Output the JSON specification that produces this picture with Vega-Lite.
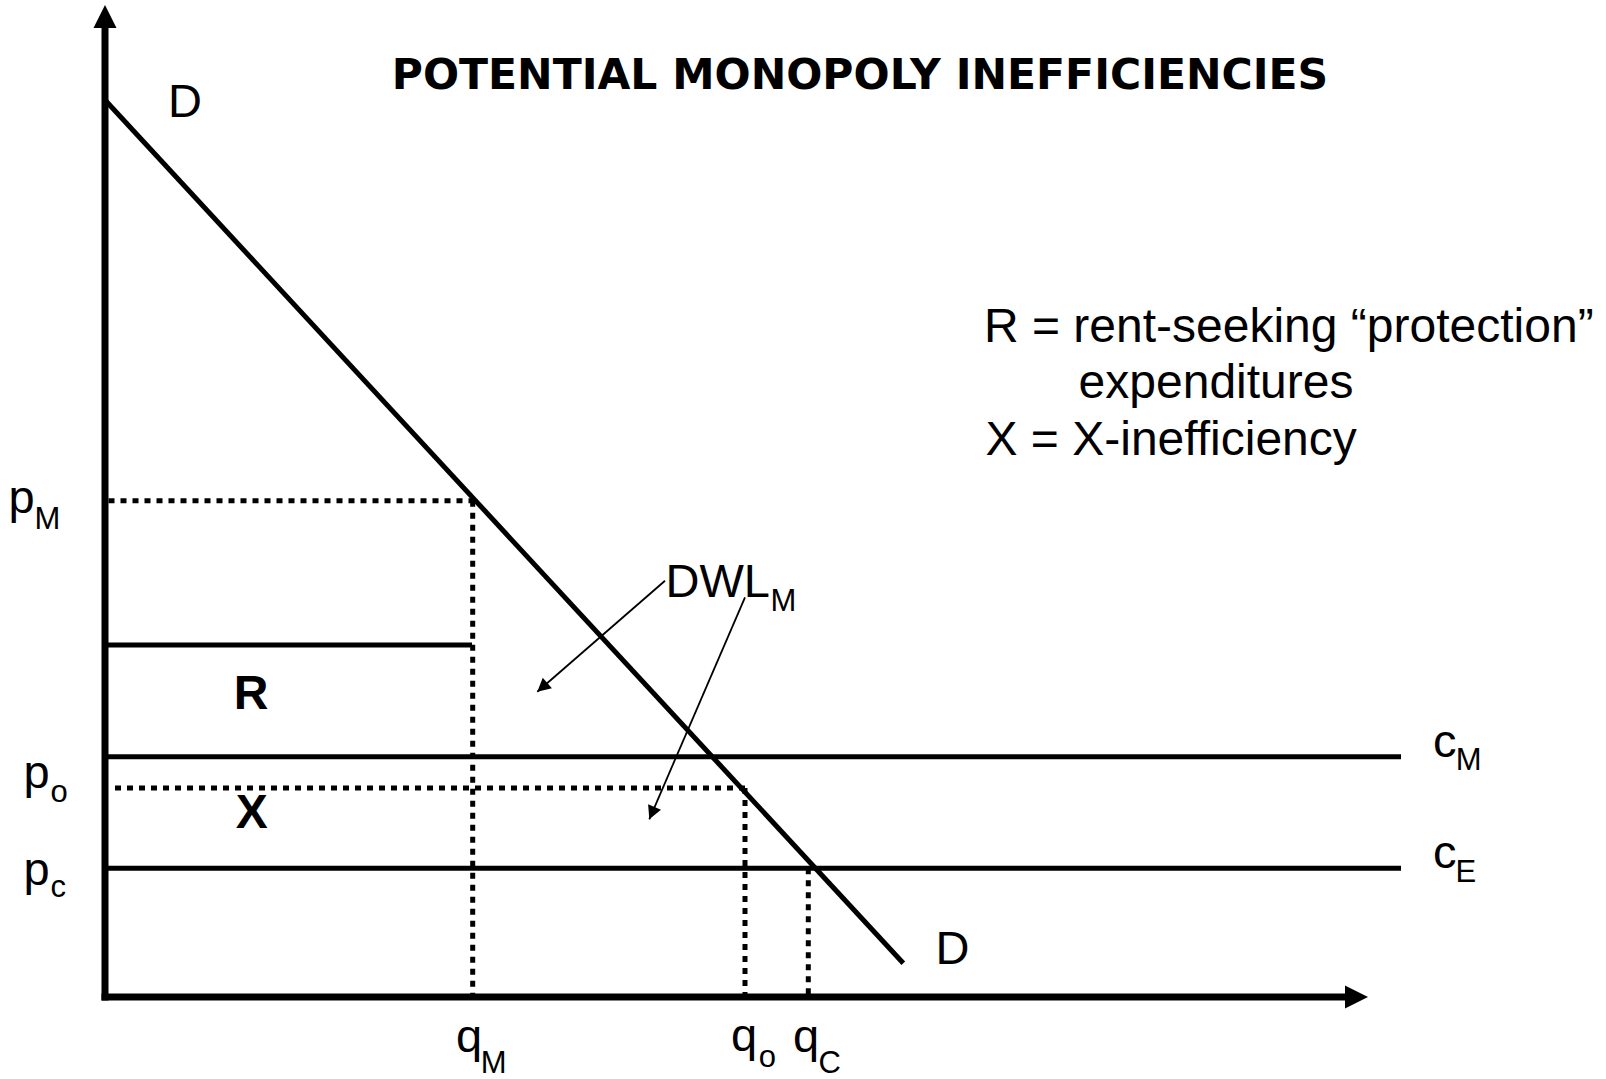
{
  "$schema": "https://vega.github.io/schema/vega-lite/v6.json",
  "width": 1606,
  "height": 1079,
  "padding": 0,
  "autosize": {"type": "fit", "contains": "padding"},
  "background": "white",
  "config": {"view": {"stroke": null}},
  "datasets": {
    "solid": [
      {"name": "D", "q": 0, "p": 89.7, "q2": 79.83, "p2": 3.37},
      {"name": "R", "q": 0, "p": 35.2, "q2": 36.7, "p2": 35.2},
      {"name": "cM", "q": 0, "p": 24.03, "q2": 129.6, "p2": 24.03},
      {"name": "cE", "q": 0, "p": 12.87, "q2": 129.6, "p2": 12.87}
    ],
    "dotted": [
      {"name": "pM", "q": 0.35, "p": 49.63, "q2": 36.77, "p2": 49.63},
      {"name": "qM", "q": 36.77, "p": 49.63, "q2": 36.77, "p2": 0.3},
      {"name": "po", "q": 1.0, "p": 20.9, "q2": 64.0, "p2": 20.9},
      {"name": "qo", "q": 64.0, "p": 20.9, "q2": 64.0, "p2": 0.3},
      {"name": "qC", "q": 70.33, "p": 12.87, "q2": 70.33, "p2": 0.3}
    ],
    "axes": [
      {"name": "y", "q": 0, "p": -0.35, "q2": 0, "p2": 97.5},
      {"name": "x", "q": -0.35, "p": 0, "q2": 124.7, "p2": 0}
    ],
    "leaders": [
      {"name": "DWL1", "q": 56.0, "p": 41.63, "q2": 43.23, "p2": 30.53},
      {"name": "DWL2", "q": 64.0, "p": 39.97, "q2": 54.43, "p2": 17.77}
    ],
    "heads": [
      {"name": "yaxis", "q": 0, "p": 99.2},
      {"name": "xaxis", "q": 126.3, "p": 0},
      {"name": "DWL1", "q": 43.23, "p": 30.53},
      {"name": "DWL2", "q": 54.43, "p": 17.77}
    ],
    "labels": [
      {"t": "p", "q": -9.64, "p": 48.4},
      {"t": "p", "q": -8.14, "p": 20.9},
      {"t": "p", "q": -8.14, "p": 11.25},
      {"t": "q", "q": 35.1, "p": -5.5},
      {"t": "q", "q": 62.6, "p": -5.4},
      {"t": "q", "q": 68.8, "p": -5.5},
      {"t": "c", "q": 132.8, "p": 24.0},
      {"t": "c", "q": 132.8, "p": 12.9},
      {"t": "D", "q": 6.3, "p": 88.0},
      {"t": "D", "q": 83.05, "p": 3.3},
      {"t": "DWL", "q": 56.05, "p": 40.03}
    ],
    "subs": [
      {"t": "M", "q": -7.05, "p": 46.8},
      {"t": "o", "q": -5.45, "p": 19.53},
      {"t": "c", "q": -5.45, "p": 10.03},
      {"t": "M", "q": 37.58, "p": -7.6},
      {"t": "o", "q": 65.38, "p": -7.0},
      {"t": "C", "q": 71.35, "p": -7.6},
      {"t": "M", "q": 135.08, "p": 22.7},
      {"t": "E", "q": 135.06, "p": 11.5},
      {"t": "M", "q": 66.55, "p": 38.63}
    ],
    "notes": [
      {"t": "R = rent-seeking “protection”", "q": 87.9, "p": 65.53},
      {"t": "expenditures", "q": 97.36, "p": 59.9},
      {"t": "X = X-inefficiency", "q": 88.05, "p": 54.2}
    ],
    "areas": [
      {"t": "R", "q": 14.6, "p": 28.77},
      {"t": "X", "q": 14.67, "p": 16.87}
    ],
    "title": [
      {"t": "POTENTIAL MONOPOLY INEFFICIENCIES", "q": 75.5, "p": 90.77}
    ]
  },
  "encoding": {
    "x": {"field": "q", "type": "quantitative", "scale": {"domain": [-10.5, 150.1], "nice": false, "zero": false}, "axis": null},
    "y": {"field": "p", "type": "quantitative", "scale": {"domain": [-8.2, 99.7], "nice": false, "zero": false}, "axis": null}
  },
  "layer": [
    {
      "data": {"name": "solid"},
      "mark": {"type": "rule", "color": "black", "strokeWidth": 5},
      "encoding": {"x2": {"field": "q2"}, "y2": {"field": "p2"}}
    },
    {
      "data": {"name": "dotted"},
      "mark": {"type": "rule", "color": "black", "strokeWidth": 5, "strokeDash": [6, 6]},
      "encoding": {"x2": {"field": "q2"}, "y2": {"field": "p2"}}
    },
    {
      "data": {"name": "axes"},
      "mark": {"type": "rule", "color": "black", "strokeWidth": 7},
      "encoding": {"x2": {"field": "q2"}, "y2": {"field": "p2"}}
    },
    {
      "data": {"name": "leaders"},
      "mark": {"type": "rule", "color": "black", "strokeWidth": 1.8},
      "encoding": {"x2": {"field": "q2"}, "y2": {"field": "p2"}}
    },
    {
      "data": {"name": "heads"},
      "transform": [{"filter": "datum.name === 'yaxis'"}],
      "mark": {"type": "point", "shape": "M0,0L-1,2L1,2Z", "filled": true, "color": "black", "opacity": 1, "strokeWidth": 0, "size": 529, "angle": 0}
    },
    {
      "data": {"name": "heads"},
      "transform": [{"filter": "datum.name === 'xaxis'"}],
      "mark": {"type": "point", "shape": "M0,0L-1,2L1,2Z", "filled": true, "color": "black", "opacity": 1, "strokeWidth": 0, "size": 529, "angle": 90}
    },
    {
      "data": {"name": "heads"},
      "transform": [{"filter": "datum.name === 'DWL1'"}],
      "mark": {"type": "point", "shape": "M0,0L-1,1.9L1,1.9Z", "filled": true, "color": "black", "opacity": 1, "strokeWidth": 0, "size": 196, "angle": 229}
    },
    {
      "data": {"name": "heads"},
      "transform": [{"filter": "datum.name === 'DWL2'"}],
      "mark": {"type": "point", "shape": "M0,0L-1,1.9L1,1.9Z", "filled": true, "color": "black", "opacity": 1, "strokeWidth": 0, "size": 196, "angle": 203.3}
    },
    {
      "data": {"name": "labels"},
      "mark": {"type": "text", "align": "left", "baseline": "alphabetic", "font": "Liberation Sans", "fontSize": 47, "color": "black"},
      "encoding": {"text": {"field": "t"}}
    },
    {
      "data": {"name": "subs"},
      "mark": {"type": "text", "align": "left", "baseline": "alphabetic", "font": "Liberation Sans", "fontSize": 31, "color": "black"},
      "encoding": {"text": {"field": "t"}}
    },
    {
      "data": {"name": "notes"},
      "mark": {"type": "text", "align": "left", "baseline": "alphabetic", "font": "Liberation Sans", "fontSize": 48, "color": "black"},
      "encoding": {"text": {"field": "t"}}
    },
    {
      "data": {"name": "areas"},
      "mark": {"type": "text", "align": "center", "baseline": "alphabetic", "font": "Liberation Sans", "fontWeight": "bold", "fontSize": 48, "color": "black"},
      "encoding": {"text": {"field": "t"}}
    },
    {
      "data": {"name": "title"},
      "mark": {"type": "text", "align": "center", "baseline": "alphabetic", "font": "DejaVu Sans", "fontWeight": "bold", "fontSize": 42.5, "color": "black"},
      "encoding": {"text": {"field": "t"}}
    }
  ]
}
